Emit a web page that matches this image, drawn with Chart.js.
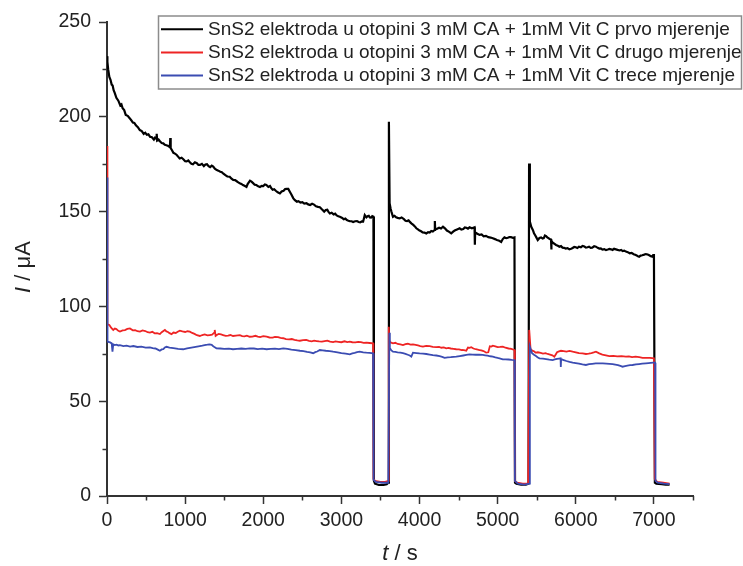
<!DOCTYPE html>
<html>
<head>
<meta charset="utf-8">
<script src="https://cdn.jsdelivr.net/npm/chart.js@4.4.1/dist/chart.umd.min.js"></script>
<style>
  html, body { margin: 0; padding: 0; background: #fff; }
  #wrap { width: 743px; height: 566px; position: relative; }
</style>
</head>
<body>
<div id="wrap"><canvas id="c" width="743" height="566"></canvas></div>
<script>
// ---------- DATA ----------
const seriesLabels = [
  "SnS2 elektroda u otopini 3 mM CA + 1mM Vit C prvo mjerenje",
  "SnS2 elektroda u otopini 3 mM CA + 1mM Vit C drugo mjerenje",
  "SnS2 elektroda u otopini 3 mM CA + 1mM Vit C trece mjerenje"
];
const xTicks = [0, 1000, 2000, 3000, 4000, 5000, 6000, 7000];
const yTicks = [0, 50, 100, 150, 200, 250];

// [t (s), I (µA)] pairs
const blackPts = [
  [0,232],[5,229],[15,225],[30,221],[45,219.5],[60,217],[72,216.5],[85,214],[100,212.5],[120,210],[145,208.5],[170,206],[185,206.5],[200,204.5],[220,203.5],[240,201],[265,200.5],[295,199],[310,198.2],[330,197],[350,196.8],[370,195.5],[395,194.5],[420,193],[445,192.5],[470,191],[490,191.6],[510,190.5],[530,190.8],[550,189.5],[575,189.2],[600,188],[615,189],[630,188.5],[636,191],[642,187.5],[660,188],[680,187],[700,186.2],[720,186],[740,185.2],[760,185],[785,184.6],[805,184],[810,188.8],[815,183.5],[830,182.5],[850,181],[870,180.6],[890,180],[910,179],[930,178],[955,178.4],[980,177.5],[1000,176.6],[1020,176.5],[1040,177],[1060,176],[1080,175.2],[1100,175],[1125,176],[1150,175.5],[1170,174.6],[1190,174.6],[1215,175.2],[1240,174],[1260,174.8],[1280,175],[1300,174],[1320,173.5],[1340,174.2],[1360,173.7],[1380,172.6],[1400,172],[1425,171.6],[1450,171],[1470,170.8],[1490,170],[1515,169.2],[1540,168.5],[1571,168.4],[1590,167.5],[1615,166.7],[1640,166.6],[1660,166],[1680,165.4],[1699,165],[1720,164.6],[1740,164],[1760,163.6],[1785,163],[1800,164.5],[1830,166.3],[1850,165.8],[1870,165],[1890,164.2],[1910,164],[1935,163.4],[1958,163],[1980,163.6],[2000,163.5],[2020,164.3],[2040,164],[2065,163],[2086,163.5],[2100,162.5],[2120,161.5],[2140,161.8],[2160,161],[2185,160.2],[2213,159.6],[2235,160.6],[2260,161],[2280,161.9],[2300,162],[2320,162],[2340,160.5],[2360,159],[2385,157],[2405,156],[2430,155.2],[2450,155.5],[2475,154.8],[2500,155],[2525,154.2],[2554,154.4],[2575,153.8],[2600,153.5],[2625,154.1],[2650,153.7],[2675,152.8],[2700,152.5],[2724,152.3],[2750,151.2],[2780,150],[2800,150.8],[2820,151],[2835,149.8],[2852,149],[2875,149.4],[2900,148.5],[2920,148.9],[2940,148],[2960,147.5],[2980,147.3],[3005,146.8],[3030,146],[3050,146.3],[3070,145.5],[3090,145.2],[3108,145],[3130,144.9],[3150,144.5],[3175,144.9],[3200,145],[3220,144.5],[3240,144.3],[3260,144.8],[3278,144.7],[3299,148.2],[3320,147],[3335,147.6],[3350,147.8],[3365,146.9],[3380,146.8],[3395,147.6],[3410,147.3],
  [3416,8],[3430,6.5],[3480,5.8],[3540,5.8],[3580,6.2],[3600,7],[3608,197.4],[3617,154.4],[3630,151.5],[3640,150],[3660,147.3],[3680,147.8],[3700,147],[3720,146.7],[3745,146.4],[3770,146.9],[3800,146],[3820,145.2],[3840,145],[3860,145.4],[3873,144.7],[3895,143.8],[3920,143],[3940,142.2],[3959,141.2],[3980,140.6],[4000,140],[4020,139.6],[4040,139],[4065,138.9],[4087,138.5],[4110,139.2],[4130,139],[4150,139.8],[4170,139.5],[4193,140.3],[4196,145],[4200,140.5],[4225,141],[4250,141.5],[4275,141.1],[4300,142],[4325,141.2],[4350,140],[4380,139.3],[4406,138.5],[4430,139.4],[4450,140],[4480,140.6],[4513,141.2],[4535,140.5],[4560,140.8],[4580,141.6],[4600,141.5],[4620,141],[4640,141.7],[4670,141.2],[4704,141.7],[4708,132.5],[4712,139],[4740,138.3],[4768,137.7],[4795,137.9],[4820,137],[4850,137.2],[4880,136.5],[4910,136.3],[4938,135.9],[4965,135.5],[4990,135],[5020,134.6],[5045,134],[5065,135.5],[5087,136.4],[5110,136],[5130,136.2],[5150,136.6],[5170,136.5],[5195,136.2],[5215,136.4],
  [5222,7],[5240,6.5],[5300,6],[5360,6],[5395,6.5],[5402,175.4],[5412,144.7],[5430,142],[5450,140.3],[5465,138.6],[5480,137.5],[5495,136.4],[5513,135],[5535,136.1],[5556,136.4],[5575,135.8],[5590,136],[5605,137.4],[5620,137.1],[5635,136.4],[5650,136],[5665,135.6],[5683,135.3],[5686,130],[5690,134.5],[5705,133.6],[5720,133.2],[5747,132.4],[5770,132],[5790,131.5],[5810,131.8],[5830,131],[5850,130.9],[5870,130.5],[5895,130.7],[5917,130.1],[5940,130.4],[5960,130.8],[5980,131.4],[6000,131.2],[6020,130.8],[6040,131.5],[6065,131.2],[6087,131.9],[6110,131.6],[6130,131],[6150,131.2],[6170,131.5],[6190,130.9],[6210,131],[6235,131.7],[6258,131.5],[6280,130.9],[6300,130.5],[6320,130.6],[6340,130],[6365,130.2],[6386,129.7],[6410,130],[6430,130.3],[6450,130.1],[6470,129.8],[6490,130.4],[6513,130.1],[6535,129.8],[6560,129.5],[6580,129.8],[6600,129.2],[6620,129.4],[6641,128.9],[6665,128.6],[6690,128],[6715,128.2],[6740,127.5],[6760,127.2],[6780,126.8],[6795,126.5],[6811,126.2],[6830,126.8],[6850,127],[6875,127.3],[6897,127.6],[6920,127.4],[6940,127],[6960,126.5],[6981,126.2],[6990,127],[7000,127.6],
  [7012,7],[7030,6.5],[7100,6.2],[7150,6],[7200,6]
];

const redPts = [
  [0,184.6],[3,100],[8,90.5],[30,90.2],[55,88.6],[80,87.6],[100,88.3],[120,88],[145,87.1],[166,86.7],[200,87.3],[230,87.5],[260,88.1],[294,88.4],[330,87.4],[360,87.5],[390,86.9],[422,86.7],[455,87.3],[490,87],[520,86.4],[549,86.2],[580,86.6],[610,85.8],[640,85.9],[677,85.4],[700,86.4],[741,87.6],[760,86.8],[780,86.5],[800,85.9],[826,85.4],[850,86.2],[880,86],[905,86.6],[932,87.2],[965,86.8],[1000,86.5],[1030,86.9],[1060,86.7],[1090,86],[1120,85.5],[1150,84.8],[1188,84.4],[1220,84.9],[1250,85.2],[1285,84.7],[1315,84.9],[1345,85.1],[1370,86],[1379,87.6],[1390,84.5],[1410,85.1],[1430,85.5],[1460,85.2],[1485,84.9],[1520,84.5],[1550,84.6],[1580,84.9],[1613,84.4],[1650,84.6],[1700,84.8],[1730,84.3],[1760,84.2],[1790,84.6],[1826,84],[1860,84.1],[1900,84.5],[1930,84.1],[1960,83.8],[2000,84.3],[2043,84],[2080,83.6],[2120,83.5],[2150,83.9],[2190,83.8],[2220,83.4],[2256,83.2],[2290,82.7],[2330,82.6],[2365,82.8],[2400,82.4],[2435,82.1],[2469,81.9],[2510,82.2],[2550,82.3],[2585,81.8],[2620,81.6],[2650,81.9],[2682,81.7],[2715,81.5],[2750,81.4],[2785,81.7],[2820,81.9],[2855,81.4],[2894,81.2],[2925,81.5],[2960,81.3],[3000,81.1],[3040,81.6],[3075,81.2],[3107,81.4],[3140,81.1],[3180,81],[3215,81.3],[3250,81.2],[3285,80.8],[3320,80.9],[3360,80.7],[3405,80.5],
  [3410,9],[3430,8],[3500,7.5],[3560,7.5],[3600,8],[3606,89.3],[3612,82],[3630,81],[3660,80.5],[3690,80.8],[3720,80.2],[3755,80],[3788,79.6],[3820,80.1],[3850,80.3],[3885,79.8],[3916,80],[3950,79.7],[3980,79.4],[4010,79.1],[4044,78.8],[4085,79.2],[4130,79],[4170,78.7],[4214,78.5],[4250,78.6],[4280,78.2],[4310,78.4],[4342,77.9],[4370,78.1],[4400,77.8],[4435,77.6],[4470,77.4],[4505,77.3],[4540,77],[4570,76.9],[4598,76.6],[4620,78.3],[4640,78.1],[4662,78.5],[4690,77.8],[4720,77.4],[4745,77.2],[4768,77],[4790,76.8],[4810,76.5],[4830,76.2],[4853,75.6],[4880,75.8],[4900,79],[4920,78.8],[4938,79.3],[4970,78.9],[5000,78.5],[5030,78.6],[5066,78.8],[5100,78.2],[5140,77.8],[5175,77.6],[5215,77],
  [5220,8],[5250,7],[5320,6.5],[5390,6.5],[5404,87.6],[5421,77.4],[5450,76.5],[5470,76.2],[5485,75.6],[5515,75.8],[5550,75.5],[5580,75.1],[5613,75.3],[5640,74.9],[5670,74.6],[5700,74.2],[5725,73.5],[5745,74.8],[5760,75.8],[5785,76.3],[5810,76.6],[5845,76.4],[5880,76.2],[5920,76.5],[5960,76.1],[6000,75.8],[6040,75.3],[6085,75.2],[6130,74.9],[6165,75.1],[6200,75.4],[6230,75.7],[6258,76.1],[6300,75.2],[6340,74.6],[6385,74.2],[6428,73.8],[6480,73.9],[6530,73.6],[6585,73.8],[6641,73.5],[6680,73.6],[6720,73.3],[6765,73.5],[6811,73.2],[6855,72.9],[6900,72.8],[6950,72.9],[7000,72.6],
  [7010,9],[7040,7.5],[7120,7],[7200,6.5]
];

const bluePts = [
  [0,168],[3,95],[10,81.4],[40,81],[60,80.5],[70,76.1],[80,80],[100,79.6],[120,79.8],[145,79.4],[166,79.6],[210,79.1],[250,79.3],[295,78.8],[337,79.1],[390,78.6],[440,78.8],[495,78.3],[549,78.4],[585,78],[620,77.8],[650,77.2],[677,76.6],[700,77.3],[720,77.5],[740,78.3],[762,78.7],[800,78.3],[850,78],[910,77.6],[975,77.4],[1025,77.9],[1080,78.3],[1135,78.7],[1188,79.1],[1220,79.3],[1250,79.6],[1285,79.8],[1315,80],[1340,79.7],[1360,79],[1380,78.4],[1400,77.9],[1450,77.8],[1500,77.6],[1560,77.7],[1613,77.4],[1665,77.6],[1720,77.8],[1775,77.6],[1826,77.9],[1880,77.8],[1930,77.5],[1985,77.7],[2043,77.4],[2095,77.6],[2150,77.7],[2200,77.5],[2256,77.9],[2310,77.6],[2360,77.2],[2415,76.9],[2469,76.6],[2515,76.4],[2560,76],[2600,75.7],[2639,75.3],[2665,75.9],[2690,76.2],[2724,77],[2760,76.8],[2800,76.6],[2850,76.4],[2894,76.1],[2950,75.8],[3000,75.4],[3055,75.1],[3107,74.7],[3140,75.2],[3170,75.5],[3200,75.9],[3235,76.1],[3280,75.8],[3320,75.6],[3360,75.5],[3405,75.3],
  [3412,8.5],[3440,7.5],[3520,7],[3600,7],[3614,86.1],[3620,78],[3640,76.8],[3660,76.1],[3690,76],[3720,75.8],[3755,75.6],[3788,75.3],[3820,75],[3850,74.5],[3875,74.1],[3895,73.5],[3916,75.6],[3960,75.4],[4000,75.2],[4045,75.1],[4087,74.9],[4130,74.6],[4170,74.3],[4215,74.1],[4257,73.8],[4290,73.4],[4321,72.9],[4360,73.1],[4400,73.2],[4435,73.4],[4470,73.5],[4515,73.8],[4560,74.1],[4600,74.4],[4640,74.7],[4680,74.6],[4720,74.5],[4765,74.5],[4810,74.4],[4840,74.2],[4870,74],[4905,73.7],[4938,73.5],[4970,73.1],[5000,72.8],[5035,72.5],[5066,72.1],[5100,72.1],[5140,72],[5180,71.8],[5215,71.7],
  [5220,8],[5260,6.5],[5340,6],[5410,6.5],[5412,78.8],[5440,75.3],[5465,74.5],[5490,73.8],[5510,73.2],[5534,72.6],[5580,72.4],[5620,72.2],[5660,71.9],[5704,71.7],[5730,72],[5760,72.3],[5785,72.5],[5805,72.6],[5808,68],[5812,72.2],[5845,71.7],[5880,71.2],[5920,70.7],[5960,70.3],[6000,70.1],[6040,69.8],[6085,69.4],[6130,69.1],[6170,69.5],[6210,69.7],[6255,69.9],[6300,70],[6345,69.9],[6390,69.8],[6430,69.7],[6471,69.6],[6505,69.3],[6540,69],[6570,68.6],[6598,68.2],[6630,68.5],[6660,68.8],[6695,69],[6726,69.1],[6770,69.4],[6810,69.6],[6850,69.8],[6896,70],[6930,70.1],[6960,70.2],[6990,70.3],[7015,70.3],
  [7020,8],[7050,7],[7130,6.5],[7200,6.3]
];

// ---------- STYLE ----------
const colors = ['#000000', '#ee2424', '#3b4cb2'];
const widths = [2.2, 1.8, 1.8];
const FONT = '"Liberation Sans", Arial, sans-serif';
const AXIS_COLOR = '#333333';

function pts(arr) { return arr.map(p => ({ x: p[0], y: p[1] })); }

const minorTicks = {
  id: 'minorTicks',
  afterDraw(chart) {
    const ctx = chart.ctx;
    const xs = chart.scales.x, ys = chart.scales.y;
    ctx.save();
    ctx.strokeStyle = AXIS_COLOR;
    ctx.lineWidth = 1.5;
    xs.ticks.forEach(tk => {
      if (tk.value % 1000 !== 0) {
        const px = Math.round(xs.getPixelForValue(tk.value)) + 0.5;
        ctx.beginPath(); ctx.moveTo(px, xs.top); ctx.lineTo(px, xs.top + 4.5); ctx.stroke();
      }
    });
    ys.ticks.forEach(tk => {
      if (tk.value % 50 !== 0) {
        const py = Math.round(ys.getPixelForValue(tk.value)) + 0.5;
        ctx.beginPath(); ctx.moveTo(ys.right, py); ctx.lineTo(ys.right - 4.5, py); ctx.stroke();
      }
    });
    ctx.restore();
  }
};

function drawMixed(ctx, parts, cx, cy) {
  let total = 0;
  parts.forEach(p => {
    ctx.font = (p.italic ? 'italic ' : '') + '22px ' + FONT;
    p.w = ctx.measureText(p.text).width;
    total += p.w;
  });
  let x = cx - total / 2;
  ctx.textBaseline = 'middle';
  ctx.textAlign = 'left';
  parts.forEach(p => {
    ctx.font = (p.italic ? 'italic ' : '') + '22px ' + FONT;
    ctx.fillText(p.text, x, cy);
    x += p.w;
  });
}

const titlesAndLegend = {
  id: 'titlesAndLegend',
  afterDraw(chart) {
    const ctx = chart.ctx;
    ctx.save();
    ctx.fillStyle = '#222222';
    drawMixed(ctx, [{ text: 't', italic: true }, { text: ' / s', italic: false }], 400, 554);
    ctx.save();
    ctx.translate(24, 267);
    ctx.rotate(-Math.PI / 2);
    drawMixed(ctx, [{ text: 'I', italic: true }, { text: ' / \u03bcA', italic: false }], 0, 0);
    ctx.restore();

    const bx = 158.5, by = 16, bw = 583, bh = 73;
    ctx.fillStyle = '#ffffff';
    ctx.fillRect(bx, by, bw, bh);
    ctx.strokeStyle = '#8c8c8c';
    ctx.lineWidth = 1.5;
    ctx.strokeRect(bx, by, bw, bh);
    const rows = [29.3, 52.5, 75.6];
    chart.data.datasets.forEach((ds, i) => {
      const y = rows[i];
      ctx.strokeStyle = ds.borderColor;
      ctx.lineWidth = 2;
      ctx.beginPath(); ctx.moveTo(161, y); ctx.lineTo(203, y); ctx.stroke();
      ctx.fillStyle = '#222222';
      ctx.font = '19px ' + FONT;
      ctx.textBaseline = 'middle';
      ctx.textAlign = 'left';
      ctx.fillText(ds.label, 208, y + 0.5);
    });
    ctx.restore();
  }
};

new Chart(document.getElementById('c'), {
  type: 'scatter',
  data: {
    datasets: [
      { label: seriesLabels[0], data: pts(blackPts), borderColor: colors[0], backgroundColor: colors[0], borderWidth: widths[0], showLine: true, pointRadius: 0, tension: 0, order: 3 },
      { label: seriesLabels[1], data: pts(redPts), borderColor: colors[1], backgroundColor: colors[1], borderWidth: widths[1], showLine: true, pointRadius: 0, tension: 0, order: 2 },
      { label: seriesLabels[2], data: pts(bluePts), borderColor: colors[2], backgroundColor: colors[2], borderWidth: widths[2], showLine: true, pointRadius: 0, tension: 0, order: 1 }
    ]
  },
  options: {
    responsive: false,
    animation: false,
    devicePixelRatio: 1,
    layout: { padding: { left: 0, right: 50, top: 22, bottom: 0 } },
    plugins: { legend: { display: false }, tooltip: { enabled: false } },
    scales: {
      x: {
        type: 'linear', min: 0, max: 7500,
        afterFit(s) { s.height = 70; },
        ticks: {
          stepSize: 500, autoSkip: false, maxRotation: 0, padding: 5,
          color: '#222222', font: { family: FONT, size: 19.5 },
          callback: v => (xTicks.includes(v) ? String(v) : '')
        },
        grid: {
          display: true, drawOnChartArea: false, drawTicks: true, tickLength: 8, tickWidth: 1.5,
          tickColor: c => (c.tick && c.tick.value % 1000 === 0 ? AXIS_COLOR : 'rgba(0,0,0,0)')
        },
        border: { display: true, color: AXIS_COLOR, width: 2 }
      },
      y: {
        type: 'linear', min: 0, max: 250,
        afterFit(s) { s.width = 107; },
        ticks: {
          stepSize: 25, autoSkip: false, padding: 8,
          color: '#222222', font: { family: FONT, size: 19.5 },
          callback: v => (yTicks.includes(v) ? String(v) : '')
        },
        grid: {
          display: true, drawOnChartArea: false, drawTicks: true, tickLength: 8, tickWidth: 1.5,
          tickColor: c => (c.tick && c.tick.value % 50 === 0 ? AXIS_COLOR : 'rgba(0,0,0,0)')
        },
        border: { display: true, color: AXIS_COLOR, width: 2 }
      }
    }
  },
  plugins: [minorTicks, titlesAndLegend]
});
</script>
</body>
</html>
